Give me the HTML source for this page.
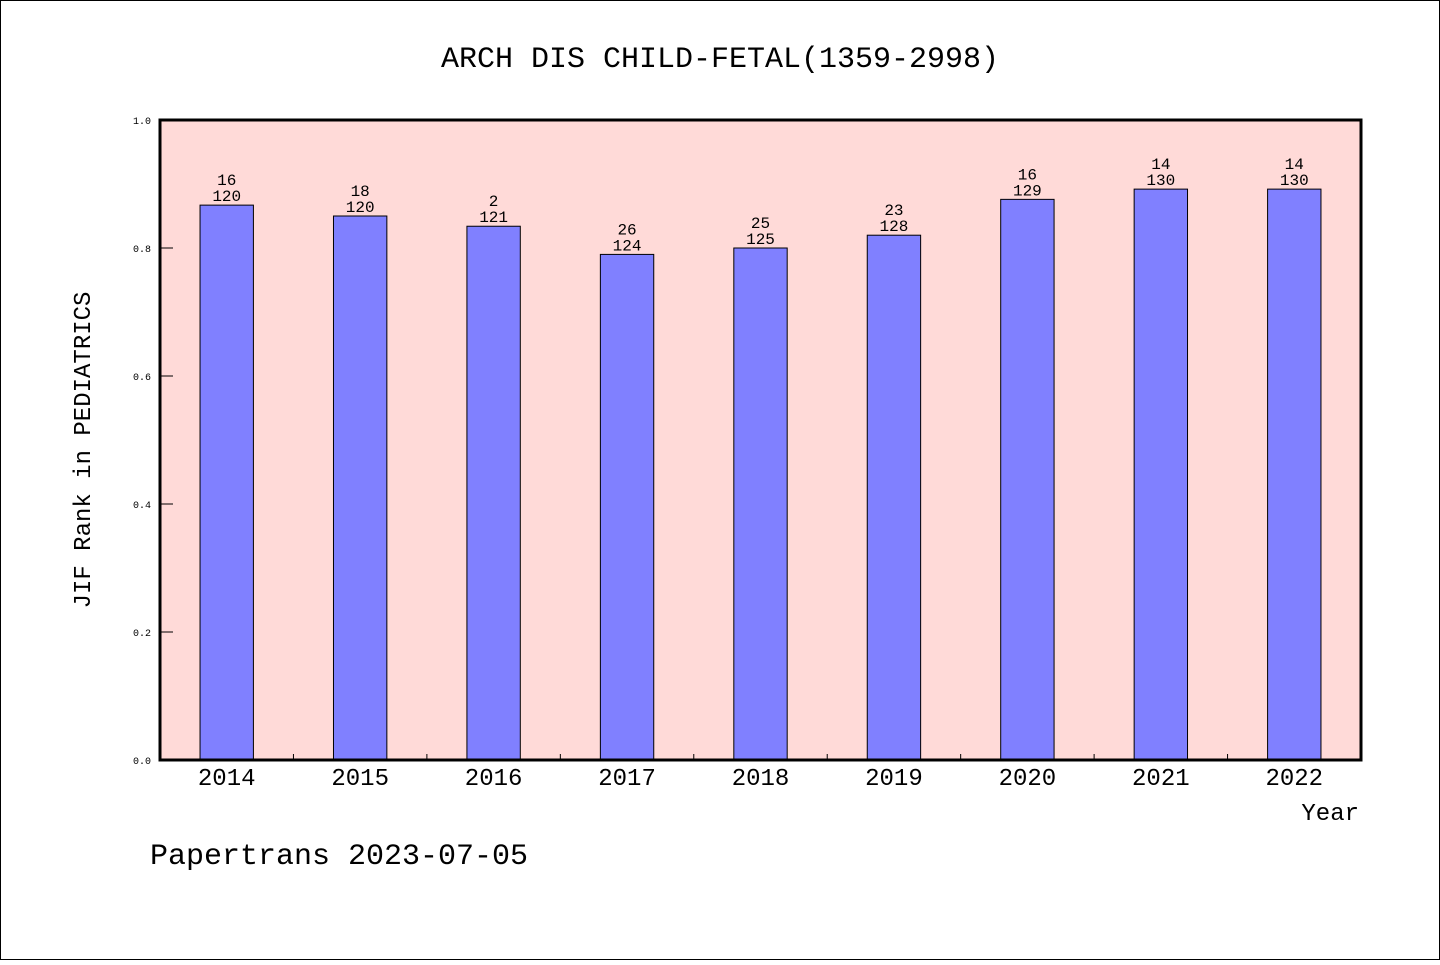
<!DOCTYPE html>
<html><head><meta charset="utf-8"><style>
html,body{margin:0;padding:0;background:#fff}
text{font-family:"WenQuanYi Zen Hei","Liberation Mono",monospace;fill:#000}
</style></head><body>
<svg id="chart" width="1440" height="960" xmlns="http://www.w3.org/2000/svg">
<rect x="0.5" y="0.5" width="1439" height="959" fill="#fff" stroke="#000"/>
<text x="720" y="67" font-size="30" text-anchor="middle">ARCH DIS CHILD-FETAL(1359-2998)</text>
<rect x="160" y="120" width="1201" height="640" fill="#ffdad8"/>
<g id="bars"></g>
<g id="yaxis"></g>
<g id="xaxis"></g>
<rect x="160" y="120" width="1201" height="640" fill="none" stroke="#000" stroke-width="3"/>
<text transform="translate(90,450) rotate(-90)" font-size="24" text-anchor="middle">JIF Rank in PEDIATRICS</text>
<text x="1359" y="820" font-size="24" text-anchor="end">Year</text>
<text x="150" y="864" font-size="30">Papertrans 2023-07-05</text>
</svg>
<script>
const years=["2014","2015","2016","2017","2018","2019","2020","2021","2022"];
const values=[0.867,0.85,0.834,0.79,0.8,0.82,0.876,0.892,0.892];
const ranks=["16","18","2","26","25","23","16","14","14"];
const totals=["120","120","121","124","125","128","129","130","130"];
const yTicks=[0,0.2,0.4,0.6,0.8,1.0];
const NS="http://www.w3.org/2000/svg";
const X0=160,X1=1361,Y0=760,Y1=120;
const band=(X1-X0)/years.length;
const y=v=>Y0-(Y0-Y1)*v;
const xc=i=>X0+band*(i+0.5);
function mk(tag,attrs,parent,txt){const e=document.createElementNS(NS,tag);for(const k in attrs)e.setAttribute(k,attrs[k]);if(txt!==undefined)e.textContent=txt;parent.appendChild(e);return e;}
const gb=document.getElementById('bars'),gy=document.getElementById('yaxis'),gx=document.getElementById('xaxis');
const bw=band*0.4;
years.forEach((yr,i)=>{
  const r=mk('rect',{x:xc(i)-bw/2,y:y(values[i]),width:bw,height:Y0-y(values[i]),fill:'#8080ff',stroke:'#000','stroke-width':1},gb);
  
  
  const t1=mk('text',{x:xc(i),y:y(values[i])-20,'font-size':16,'text-anchor':'middle'},gb,ranks[i]);
  
  
  const t2=mk('text',{x:xc(i),y:y(values[i])-4,'font-size':16,'text-anchor':'middle'},gb,totals[i]);
  
  
  const xl=mk('text',{x:xc(i),y:785,'font-size':24,'text-anchor':'middle'},gx,yr);
  
  
  if(i>0){const tk=mk('line',{x1:X0+band*i,x2:X0+band*i,y1:Y0,y2:Y0-6,stroke:'#000'},gx);
  
  }
});
yTicks.forEach(v=>{
  const tk=mk('line',{x1:X0,x2:X0+13,y1:y(v),y2:y(v),stroke:'#000'},gy);
  
  
  const tl=mk('text',{x:151,y:y(v)+4,'font-size':10,'text-anchor':'end'},gy,v.toFixed(1));
  
  
});
</script>
</body></html>
